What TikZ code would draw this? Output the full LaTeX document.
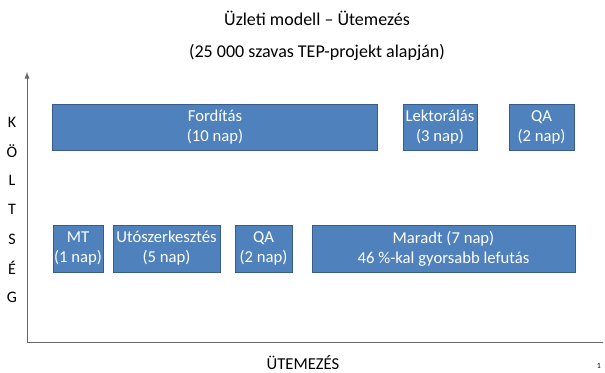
\documentclass[tikz,border=0pt]{standalone}
\usepackage{fontspec}
\setmainfont{Carlito}
\usepackage{tikz}

\tikzset{
  task/.style={draw={rgb,255:red,56;green,93;blue,138}, fill={rgb,255:red,79;green,129;blue,189}, text=white,
    align=center, inner sep=0pt, font=\fontsize{12.5}{15}\selectfont},
  axisletter/.style={font=\fontsize{12}{14}\selectfont},
}

\begin{document}
\begin{tikzpicture}[x=0.75pt, y=-0.75pt]
  \useasboundingbox (0,0) rectangle (605,373);
  % title
  \node (title) at (317,18) {\fontsize{13.5}{16}\selectfont Üzleti modell -- Ütemezés};
  \node (subtitle) at (317,52) {\fontsize{13.5}{16}\selectfont (25 000 szavas TEP-projekt alapján)};
  % axes
  \coordinate (origin) at (27,342);
  \coordinate (ytop) at (27,72);
  \coordinate (xend) at (603,342);
  \draw[gray!80!black, line width=0.7pt, -latex] (origin) -- (ytop);
  \draw[gray!80!black, line width=0.7pt] (origin) -- (xend);
  \node[inner sep=1pt] (xlabel) at (303,363) {\fontsize{12.5}{15}\selectfont ÜTEMEZÉS};
  \node[inner sep=1pt] (pagenum) at (599,366) {\fontsize{6}{7}\selectfont 1};
  % vertical axis letters
  \foreach \l [count=\i] in {K,Ö,L,T,S,É,G}
    \node[axisletter] (y\i) at (12,{93+29.2*\i}) {\l};
  % top row
  \node[task, minimum width=243.75pt, minimum height=34.5pt] (ford) at (215,127) {Fordítás\\(10 nap)};
  \node[task, minimum width=55.5pt, minimum height=34.5pt] (lekt) at (440,127) {Lektorálás\\(3 nap)};
  \node[task, minimum width=48.75pt, minimum height=34.5pt] (qa1) at (541.5,127) {QA\\(2 nap)};
  % bottom row
  \node[task, minimum width=37.5pt, minimum height=35.25pt] (mt) at (78,248.5) {MT\\(1 nap)};
  \node[task, minimum width=80.25pt, minimum height=35.25pt] (uto) at (166.5,248.5) {Utószerkesztés\\(5 nap)};
  \node[task, minimum width=42.75pt, minimum height=35.25pt] (qa2) at (263.5,248.5) {QA\\(2 nap)};
  \node[task, minimum width=197.25pt, minimum height=35.25pt] (mar) at (443.5,248.5) {Maradt (7 nap)\\46 \%-kal gyorsabb lefutás};
\end{tikzpicture}
\end{document}
